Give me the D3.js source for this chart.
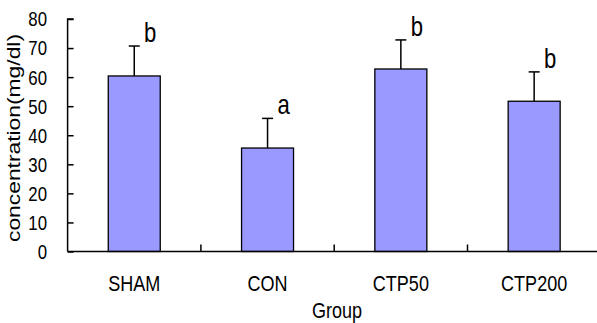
<!DOCTYPE html>
<html>
<head>
<meta charset="utf-8">
<script src="https://cdn.jsdelivr.net/npm/d3@7"></script>
<style>
  html, body { margin: 0; padding: 0; background: #fff; }
  svg { display: block; }
  text { fill: #000; font-family: 'Liberation Sans', Arial, sans-serif; }
</style>
</head>
<body>
<svg id="chart" width="597" height="323"></svg>
<script>
// ---- data ----
const categories = ["SHAM", "CON", "CTP50", "CTP200"];
const means = [60.4, 35.6, 62.8, 51.7];
const sds = [10.3, 10.2, 10.0, 10.1];
const sigLetters = ["b", "a", "b", "b"];
const yTicks = [0, 10, 20, 30, 40, 50, 60, 70, 80];
const yTitle = "concentration(mg/dl)";
const xTitle = "Group";

// ---- layout ----
const svg = d3.select("#chart");
const SX = 0.82; // horizontal condense factor
const x0 = 67.6, x1 = 600.8, yTop = 19, yBot = 251.5;

const x = d3.scaleBand().domain(categories).range([x0, x1]).padding(0);
const y = d3.scaleLinear().domain([0, 80]).range([yBot, yTop]);
const barW = x.bandwidth() * 0.39;

function ctext(parent, px, py, str, size, anchor) {
  return parent.append("text")
    .attr("transform", `translate(${px},${py}) scale(${SX},1)`)
    .attr("text-anchor", anchor || "middle")
    .style("font-size", size + "px")
    .text(str);
}

// bars
const g = svg.append("g");
categories.forEach((c, i) => {
  const cx = x(c) + x.bandwidth() / 2;
  const top = y(means[i] + sds[i]);
  g.append("line")
    .attr("x1", cx).attr("x2", cx)
    .attr("y1", y(means[i])).attr("y2", top)
    .attr("stroke", "#000").attr("stroke-width", 1.5);
  g.append("line")
    .attr("x1", cx - 5.5).attr("x2", cx + 5.5)
    .attr("y1", top).attr("y2", top)
    .attr("stroke", "#000").attr("stroke-width", 1.5);
  g.append("rect")
    .attr("x", cx - barW / 2).attr("y", y(means[i]))
    .attr("width", barW).attr("height", y(0) - y(means[i]))
    .attr("fill", "#9999ff").attr("stroke", "#000").attr("stroke-width", 1.3);
  ctext(g, cx + 16, top - 4, sigLetters[i], 27);
});

// y axis
const yAxis = d3.axisRight(y).tickValues(yTicks).tickSize(6).tickFormat("");
const ya = svg.append("g").attr("transform", `translate(${x0},0)`).call(yAxis);
ya.select(".domain").attr("d", `M6,${yTop}H0V${yBot}`).attr("stroke", "#000").attr("stroke-width", 1.5);
ya.selectAll(".tick line").attr("stroke", "#000").attr("stroke-width", 1.5);
const yl = svg.append("g");
yTicks.forEach(d => ctext(yl, 47, y(d) + 7.4, d, 20.5, "end"));

// x axis
const xAxis = d3.axisTop(x).tickSize(0).tickFormat("");
const xa = svg.append("g").attr("transform", `translate(0,${yBot})`).call(xAxis);
xa.select(".domain").attr("d", `M${x0},0H${x1}`).attr("stroke", "#000").attr("stroke-width", 1.5);
xa.selectAll(".tick").remove();
svg.append("g").selectAll("line").data(categories.slice(1)).join("line")
  .attr("x1", d => x(d)).attr("x2", d => x(d))
  .attr("y1", yBot).attr("y2", yBot - 7)
  .attr("stroke", "#000").attr("stroke-width", 1.5);
const xl = svg.append("g");
categories.forEach(c => ctext(xl, x(c) + x.bandwidth() / 2, 291, c, 22));

// axis titles
ctext(svg, 337, 318, xTitle, 22);

svg.append("text")
  .attr("transform", `translate(20,138) rotate(-90)`)
  .attr("text-anchor", "middle")
  .attr("textLength", 208).attr("lengthAdjust", "spacingAndGlyphs")
  .style("font-size", "19px")
  .text(yTitle);
</script>
</body>
</html>
